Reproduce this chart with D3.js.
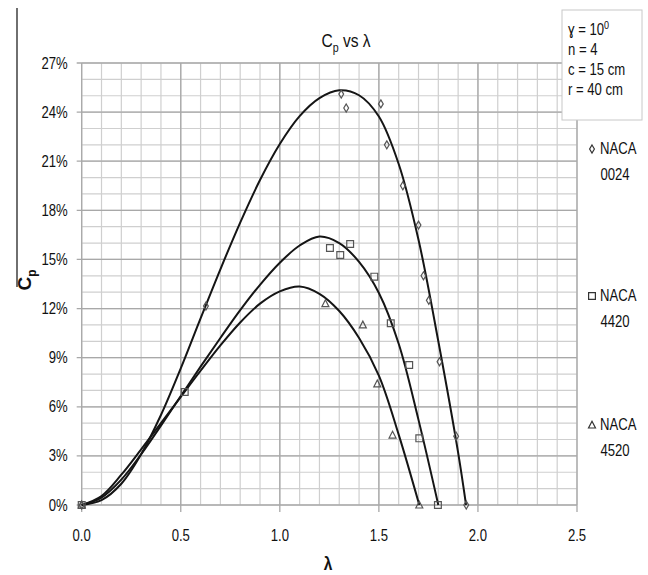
<!DOCTYPE html>
<html>
<head>
<meta charset="utf-8">
<script src="https://cdn.jsdelivr.net/npm/d3@7"></script>
<style>
  body { margin: 0; background: #fff; }
  svg { font-family: 'Liberation Sans Narrow', 'Arial Narrow', 'Liberation Sans', sans-serif; }
</style>
</head>
<body>
<svg id="chart"></svg>
<script>
// trend lines: [lambda, Cp %]
const curve0024 = [[0,0],[0.1,0.3],[0.2,1.3],[0.3,3.1],[0.4,5.5],[0.5,8.35],[0.6,11.4],[0.7,14.4],[0.8,17.25],[0.9,19.85],[1.0,22.05],[1.1,23.75],[1.2,24.85],[1.3,25.33],[1.4,25.03],[1.5,23.73],[1.6,20.83],[1.7,16.2],[1.8,10.0],[1.9,3.2],[1.94,0]];
const curve4420 = [[0,0],[0.1,0.45],[0.2,1.55],[0.3,3.1],[0.4,4.85],[0.5,6.65],[0.6,8.45],[0.7,10.2],[0.8,11.9],[0.9,13.45],[1.0,14.8],[1.1,15.85],[1.2,16.4],[1.3,16.0],[1.4,14.85],[1.5,12.95],[1.6,9.85],[1.7,5.2],[1.8,0]];
const curve4520 = [[0,0],[0.1,0.55],[0.2,1.85],[0.3,3.4],[0.4,5.0],[0.5,6.6],[0.6,8.2],[0.7,9.75],[0.8,11.15],[0.9,12.3],[1.0,13.05],[1.1,13.35],[1.2,12.9],[1.3,11.85],[1.4,10.2],[1.5,7.9],[1.6,4.3],[1.704,0]];

// measured points
const pts0024 = [[0,0],[0.627,12.15],[1.31,25.1],[1.335,24.25],[1.51,24.5],[1.54,22.0],[1.621,19.5],[1.70,17.1],[1.725,14.0],[1.752,12.5],[1.806,8.75],[1.89,4.2],[1.941,0]];
const pts4420 = [[0,0],[0.52,6.9],[1.253,15.7],[1.305,15.27],[1.355,15.94],[1.477,13.95],[1.56,11.1],[1.653,8.55],[1.704,4.07],[1.798,0]];
const pts4520 = [[0,0],[1.23,12.3],[1.419,11.0],[1.492,7.4],[1.569,4.27],[1.704,0]];

const xMajor = [0, 0.5, 1.0, 1.5, 2.0, 2.5];
const yMajor = [0, 3, 6, 9, 12, 15, 18, 21, 24, 27];
const paramLines = ['n = 4', 'c = 15 cm', 'r = 40 cm'];
const seriesNames = [['NACA', '0024'], ['NACA', '4420'], ['NACA', '4520']];

const width = 648, height = 575;
const plotLeft = 81.7, plotRight = 577, plotTop = 63, plotBottom = 505;
const narrow = 0.82; // squeeze text horizontally, the original face is a condensed one

const svg = d3.select('#chart')
  .attr('width', width)
  .attr('height', height);

const x = d3.scaleLinear().domain([0, 2.5]).range([plotLeft, plotRight]);
const y = d3.scaleLinear().domain([0, 27]).range([plotBottom, plotTop]);

const at = (px, py) => `translate(${px},${py}) scale(${narrow},1)`;

// minor grid
const grid = svg.append('g');
grid.selectAll('.vminor')
  .data(x.ticks(25))
  .enter().append('line')
    .attr('x1', d => x(d)).attr('x2', d => x(d))
    .attr('y1', plotTop).attr('y2', plotBottom)
    .style('stroke', '#cfcfcf').style('stroke-width', 1.2);
grid.selectAll('.hminor')
  .data(y.ticks(27))
  .enter().append('line')
    .attr('x1', plotLeft).attr('x2', plotRight)
    .attr('y1', d => y(d)).attr('y2', d => y(d))
    .style('stroke', '#cfcfcf').style('stroke-width', 1.2);
// major grid, with small tick stubs outside the plot
grid.selectAll('.vmajor')
  .data(xMajor)
  .enter().append('line')
    .attr('x1', d => x(d)).attr('x2', d => x(d))
    .attr('y1', plotTop).attr('y2', plotBottom + 7)
    .style('stroke', '#a8a8a8').style('stroke-width', 1.3);
grid.selectAll('.hmajor')
  .data(yMajor)
  .enter().append('line')
    .attr('x1', plotLeft - 5).attr('x2', plotRight)
    .attr('y1', d => y(d)).attr('y2', d => y(d))
    .style('stroke', '#a8a8a8').style('stroke-width', 1.3);

// tick labels
svg.append('g')
  .selectAll('text')
  .data(yMajor)
  .enter().append('text')
    .attr('transform', d => at(plotLeft - 14, y(d)))
    .attr('dy', '0.35em')
    .attr('text-anchor', 'end')
    .style('font-size', '16px')
    .style('fill', '#111')
    .text(d => d + '%');
svg.append('g')
  .selectAll('text')
  .data(xMajor)
  .enter().append('text')
    .attr('transform', d => at(x(d), 541))
    .attr('text-anchor', 'middle')
    .style('font-size', '16px')
    .style('fill', '#111')
    .text(d => d.toFixed(1));

// trend lines
const line = d3.line()
  .x(d => x(d[0]))
  .y(d => y(d[1]))
  .curve(d3.curveCatmullRom.alpha(0.5));
svg.append('g')
  .selectAll('path')
  .data([curve0024, curve4420, curve4520])
  .enter().append('path')
    .attr('d', line)
    .style('fill', 'none')
    .style('stroke', '#151515')
    .style('stroke-width', 2);

// markers
const diamond = 'M0,-4L2.4,0L0,4L-2.4,0Z';
const square = 'M-3.4,-3.4H3.4V3.4H-3.4Z';
const triangle = 'M0,-3.8L3.5,3H-3.5Z';
const markerShapes = [diamond, square, triangle];
[pts0024, pts4420, pts4520].forEach((pts, i) => {
  svg.append('g')
    .selectAll('path')
    .data(pts)
    .enter().append('path')
      .attr('transform', d => `translate(${x(d[0])},${y(d[1])})`)
      .attr('d', markerShapes[i])
      .style('fill', 'none')
      .style('stroke', '#555')
      .style('stroke-width', 1.2);
});

// title
const title = svg.append('text')
  .attr('transform', at(346, 47))
  .attr('text-anchor', 'middle')
  .style('font-size', '19px')
  .style('fill', '#111');
title.append('tspan').text('C');
title.append('tspan').attr('dy', 5).style('font-size', '13px').text('p');
title.append('tspan').attr('dy', -5).text(' vs λ');

// axis titles
const yTitle = svg.append('text')
  .attr('transform', 'translate(31,280) rotate(-90)')
  .attr('text-anchor', 'middle')
  .style('font-size', '19px')
  .style('font-weight', 'bold')
  .style('fill', '#111');
yTitle.append('tspan').text('C');
yTitle.append('tspan').attr('dy', 5).style('font-size', '12px').text('p');

svg.append('text')
  .attr('transform', at(328, 570))
  .attr('text-anchor', 'middle')
  .style('font-size', '19px')
  .style('font-weight', 'bold')
  .style('fill', '#111')
  .text('λ');

// stray border line on the left of the figure
svg.append('line')
  .attr('x1', 17).attr('x2', 17)
  .attr('y1', 8).attr('y2', 287)
  .style('stroke', '#222').style('stroke-width', 1.3);

// parameter box
svg.append('rect')
  .attr('x', 562).attr('y', 10)
  .attr('width', 80).attr('height', 110)
  .style('fill', '#fff')
  .style('stroke', '#c8c8c8');
const gamma = svg.append('text')
  .attr('transform', at(568, 35))
  .style('font-size', '16px')
  .style('fill', '#111');
gamma.append('tspan').text('ɣ = 10');
gamma.append('tspan').attr('dy', -6).style('font-size', '11px').text('0');
svg.append('g')
  .selectAll('text')
  .data(paramLines)
  .enter().append('text')
    .attr('transform', (d, i) => at(568, 55 + i * 20))
    .style('font-size', '16px')
    .style('fill', '#111')
    .text(d => d);

// legend
const legendY = [154, 301, 430];
seriesNames.forEach((n, i) => {
  const g = svg.append('g');
  g.append('path')
    .attr('transform', `translate(592,${legendY[i] - 5})`)
    .attr('d', markerShapes[i])
    .style('fill', 'none')
    .style('stroke', '#333')
    .style('stroke-width', 1.2);
  g.append('text')
    .attr('transform', at(600, legendY[i]))
    .style('font-size', '16px')
    .style('fill', '#111')
    .text(n[0]);
  g.append('text')
    .attr('transform', at(615, legendY[i] + 26))
    .attr('text-anchor', 'middle')
    .style('font-size', '16px')
    .style('fill', '#111')
    .text(n[1]);
});
</script>
</body>
</html>
